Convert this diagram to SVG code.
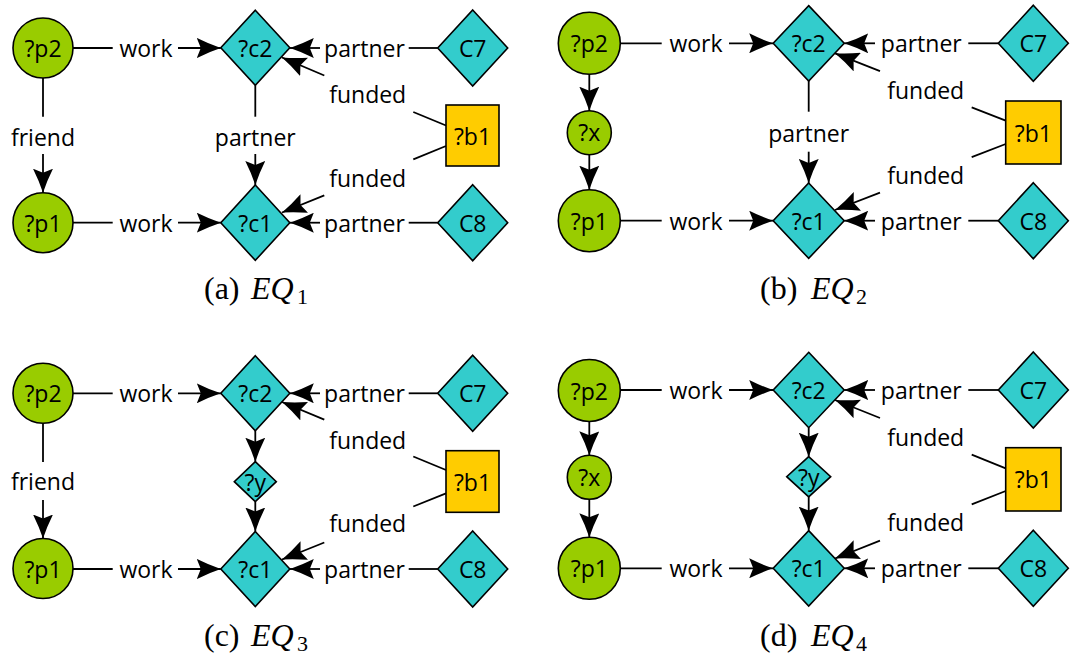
<svg xmlns="http://www.w3.org/2000/svg" width="1070" height="656" viewBox="0 0 1070 656">
<style>
.g{fill:#99cc00;stroke:#000;stroke-width:1.6}
.c{fill:#33cccc;stroke:#000;stroke-width:1.6}
.y{fill:#ffcc00;stroke:#000;stroke-width:1.6}
.t{font-family:"Open Sans","Noto Sans",sans-serif;font-size:23px;fill:#000;text-anchor:middle}
.e{fill:none;stroke:#000;stroke-width:1.8}
.a{marker-end:url(#ah)}
.cap{font-family:"Liberation Serif",serif;font-size:32px;fill:#000}
.capi{font-family:"Liberation Serif",serif;font-size:32px;font-style:italic;fill:#000}
.sub{font-family:"Liberation Serif",serif;font-size:22px;fill:#000}
</style>
<defs>
<marker id="ah" markerUnits="userSpaceOnUse" viewBox="0 0 24 20" markerWidth="24" markerHeight="20" refX="24" refY="10" orient="auto">
<path d="M0,0 Q12,6 24,10 Q12,14 0,20 L4,10 Z" fill="#000"/>
</marker>
</defs>
<rect width="1070" height="656" fill="#fff"/>

<!-- Panel a -->
<g id="a-connectors">
<path class="e" d="M73,48 H112.7"/><text class="t" x="146" y="57">work</text><path class="e a" d="M178,48 H220.8"/>
<path class="e" d="M437.7,48 H408.7"/><text class="t" x="364.5" y="57">partner</text><path class="e a" d="M320,48 H289.8"/>
<path class="e" d="M446,125.5 L413.3,112"/><text class="t" x="367.7" y="103">funded</text><path class="e a" d="M324.3,75.5 L282,57.5"/>
<path class="e" d="M446,146 L413.3,159.3"/><text class="t" x="367.7" y="186.5">funded</text><path class="e a" d="M324.3,195.3 L282,212.5"/>
<path class="e" d="M255.3,85.2 V116.7"/><text class="t" x="255.3" y="145.5">partner</text><path class="e a" d="M255.3,154 V185"/>
<path class="e" d="M43,78 V116.7"/><text class="t" x="43" y="145.5">friend</text><path class="e a" d="M43,154 V192.7"/>
<path class="e" d="M73,222.7 H112.7"/><text class="t" x="146" y="231.7">work</text><path class="e a" d="M178,222.7 H220.8"/>
<path class="e" d="M437.7,222.7 H408.7"/><text class="t" x="364.5" y="231.7">partner</text><path class="e a" d="M320,222.7 H289.8"/>
</g>
<g id="a-p2"><circle class="g" cx="43" cy="48" r="30"/><text class="t" x="43" y="57">?p2</text></g>
<g id="a-p1"><circle class="g" cx="43" cy="222.7" r="30"/><text class="t" x="43" y="231.7">?p1</text></g>
<g id="a-c2"><polygon class="c" points="255.3,10.2 289.8,47.7 255.3,85.2 220.8,47.7"/><text class="t" x="255.3" y="56.7">?c2</text></g>
<g id="a-c1"><polygon class="c" points="255.3,185 289.8,222.7 255.3,260.4 220.8,222.7"/><text class="t" x="255.3" y="231.7">?c1</text></g>
<g id="a-C7"><polygon class="c" points="472.7,10 507.7,48 472.7,86 437.7,48"/><text class="t" x="472.7" y="57">C7</text></g>
<g id="a-C8"><polygon class="c" points="472.7,184.7 507.7,222.7 472.7,260.7 437.7,222.7"/><text class="t" x="472.7" y="231.7">C8</text></g>
<g id="a-b1"><rect class="y" x="446" y="105" width="53" height="61"/><text class="t" x="472.5" y="144.5">?b1</text></g>
<g id="a-caption"><text class="cap" x="204" y="299">(a)</text><text class="capi" x="251" y="299">EQ</text><text class="sub" x="297" y="304">1</text></g>

<!-- Panel b -->
<g id="b-connectors">
<path class="e a" d="M589.3,74.3 V110.7"/>
<path class="e a" d="M589.3,154.7 V189.7"/>
<path class="e" d="M620.3,43.3 H661.7"/><text class="t" x="696" y="52.3">work</text><path class="e a" d="M729,43.3 H773.2"/>
<path class="e" d="M998.3,43.3 H968.3"/><text class="t" x="921.3" y="52.3">partner</text><path class="e a" d="M875,43.3 H844.2"/>
<path class="e" d="M1005.7,120.7 L971.7,107.3"/><text class="t" x="925.7" y="99">funded</text><path class="e a" d="M880,71.1 L835,53.3"/>
<path class="e" d="M1005.7,144 L971.7,157.2"/><text class="t" x="925.7" y="184">funded</text><path class="e a" d="M880,192.6 L835,210"/>
<path class="e" d="M808.7,81 V111.7"/><text class="t" x="808.7" y="142">partner</text><path class="e a" d="M808.7,151.7 V182.9"/>
<path class="e" d="M620.3,220.7 H661.7"/><text class="t" x="696" y="229.7">work</text><path class="e a" d="M729,220.7 H773.2"/>
<path class="e" d="M998.3,220.7 H968.3"/><text class="t" x="921.3" y="229.7">partner</text><path class="e a" d="M875,220.7 H844.2"/>
</g>
<g id="b-p2"><circle class="g" cx="589.3" cy="43.3" r="31"/><text class="t" x="589.3" y="52.3">?p2</text></g>
<g id="b-x"><circle class="g" cx="589.3" cy="132.7" r="22"/><text class="t" x="589.3" y="141.2">?x</text></g>
<g id="b-p1"><circle class="g" cx="589.3" cy="220.7" r="31"/><text class="t" x="589.3" y="229.7">?p1</text></g>
<g id="b-c2"><polygon class="c" points="808.7,5.6 844.2,43.3 808.7,81 773.2,43.3"/><text class="t" x="808.7" y="52.3">?c2</text></g>
<g id="b-c1"><polygon class="c" points="808.7,183 844.2,220.7 808.7,258.4 773.2,220.7"/><text class="t" x="808.7" y="229.7">?c1</text></g>
<g id="b-C7"><polygon class="c" points="1033.3,5.3 1068.3,43.3 1033.3,81.3 998.3,43.3"/><text class="t" x="1033.3" y="52.3">C7</text></g>
<g id="b-C8"><polygon class="c" points="1033.3,182.7 1068.3,220.7 1033.3,258.7 998.3,220.7"/><text class="t" x="1033.3" y="229.7">C8</text></g>
<g id="b-b1"><rect class="y" x="1005.7" y="101" width="55.3" height="63"/><text class="t" x="1033.3" y="141.5">?b1</text></g>
<g id="b-caption"><text class="cap" x="760" y="299">(b)</text><text class="capi" x="811" y="299">EQ</text><text class="sub" x="856" y="304">2</text></g>

<!-- Panel c -->
<g id="c-connectors">
<path class="e" d="M73,393.3 H112.7"/><text class="t" x="146" y="402.3">work</text><path class="e a" d="M178,393.3 H220.8"/>
<path class="e" d="M437.7,393.3 H408.7"/><text class="t" x="364.5" y="402.3">partner</text><path class="e a" d="M320,393.3 H289.8"/>
<path class="e" d="M446,470 L413.3,456.5"/><text class="t" x="367.7" y="448.5">funded</text><path class="e a" d="M324.3,419.6 L282,402"/>
<path class="e" d="M446,493.3 L413.3,506.5"/><text class="t" x="367.7" y="532">funded</text><path class="e a" d="M324.3,542.5 L282,559.5"/>
<path class="e a" d="M255.3,430.8 V461.7"/>
<path class="e a" d="M255.3,501.7 V531.5"/>
<path class="e" d="M43,423.3 V462"/><text class="t" x="43" y="490">friend</text><path class="e a" d="M43,500 V538.5"/>
<path class="e" d="M73,569 H112.7"/><text class="t" x="146" y="578">work</text><path class="e a" d="M178,569 H220.8"/>
<path class="e" d="M437.7,569 H408.7"/><text class="t" x="364.5" y="578">partner</text><path class="e a" d="M320,569 H289.8"/>
</g>
<g id="c-p2"><circle class="g" cx="43" cy="393.3" r="30"/><text class="t" x="43" y="402.3">?p2</text></g>
<g id="c-p1"><circle class="g" cx="43" cy="568.5" r="30"/><text class="t" x="43" y="577.5">?p1</text></g>
<g id="c-c2"><polygon class="c" points="255.3,355.8 289.8,393.3 255.3,430.8 220.8,393.3"/><text class="t" x="255.3" y="402.3">?c2</text></g>
<g id="c-y"><polygon class="c" points="255.3,461.7 276.3,481.7 255.3,501.7 234.3,481.7"/><text class="t" x="255.3" y="490.5">?y</text></g>
<g id="c-c1"><polygon class="c" points="255.3,531.5 289.8,569 255.3,606.5 220.8,569"/><text class="t" x="255.3" y="578">?c1</text></g>
<g id="c-C7"><polygon class="c" points="472.7,355.3 507.7,393.3 472.7,431.3 437.7,393.3"/><text class="t" x="472.7" y="402.3">C7</text></g>
<g id="c-C8"><polygon class="c" points="472.7,531 507.7,569 472.7,607 437.7,569"/><text class="t" x="472.7" y="578">C8</text></g>
<g id="c-b1"><rect class="y" x="446" y="450.7" width="53" height="61.6"/><text class="t" x="472.5" y="490.5">?b1</text></g>
<g id="c-caption"><text class="cap" x="204" y="646">(c)</text><text class="capi" x="251" y="646">EQ</text><text class="sub" x="297" y="651">3</text></g>

<!-- Panel d -->
<g id="d-connectors">
<path class="e a" d="M589.3,421.5 V455.3"/>
<path class="e a" d="M589.3,499.3 V537.3"/>
<path class="e" d="M620.3,390 H661.7"/><text class="t" x="696" y="399">work</text><path class="e a" d="M729,390 H773.2"/>
<path class="e" d="M998.3,390 H968.3"/><text class="t" x="921.3" y="399">partner</text><path class="e a" d="M875,390 H844.2"/>
<path class="e" d="M1005.7,468.3 L971.7,454.7"/><text class="t" x="925.7" y="445.5">funded</text><path class="e a" d="M880,418 L835,400"/>
<path class="e" d="M1005.7,491 L971.7,504.4"/><text class="t" x="925.7" y="530.5">funded</text><path class="e a" d="M880,540.7 L835,558.5"/>
<path class="e a" d="M808.7,427.7 V456.7"/>
<path class="e a" d="M808.7,497 V530.6"/>
<path class="e" d="M620.3,568.3 H661.7"/><text class="t" x="696" y="577.3">work</text><path class="e a" d="M729,568.3 H773.2"/>
<path class="e" d="M998.3,568.3 H968.3"/><text class="t" x="921.3" y="577.3">partner</text><path class="e a" d="M875,568.3 H844.2"/>
</g>
<g id="d-p2"><circle class="g" cx="589.3" cy="390.5" r="31"/><text class="t" x="589.3" y="399.5">?p2</text></g>
<g id="d-x"><circle class="g" cx="589.3" cy="477.3" r="22"/><text class="t" x="589.3" y="485.8">?x</text></g>
<g id="d-p1"><circle class="g" cx="589.3" cy="568.3" r="31"/><text class="t" x="589.3" y="577.3">?p1</text></g>
<g id="d-c2"><polygon class="c" points="808.7,352.3 844.2,390 808.7,427.7 773.2,390"/><text class="t" x="808.7" y="399">?c2</text></g>
<g id="d-y"><polygon class="c" points="808.7,456.7 830.7,476.7 808.7,496.9 786.7,476.7"/><text class="t" x="808.7" y="485.5">?y</text></g>
<g id="d-c1"><polygon class="c" points="808.7,530.6 844.2,568.3 808.7,606 773.2,568.3"/><text class="t" x="808.7" y="577.3">?c1</text></g>
<g id="d-C7"><polygon class="c" points="1033.3,352 1068.3,390 1033.3,428 998.3,390"/><text class="t" x="1033.3" y="399">C7</text></g>
<g id="d-C8"><polygon class="c" points="1033.3,530.3 1068.3,568.3 1033.3,606.3 998.3,568.3"/><text class="t" x="1033.3" y="577.3">C8</text></g>
<g id="d-b1"><rect class="y" x="1005.7" y="447.7" width="55.3" height="63.3"/><text class="t" x="1033.3" y="488">?b1</text></g>
<g id="d-caption"><text class="cap" x="760" y="646">(d)</text><text class="capi" x="811" y="646">EQ</text><text class="sub" x="856" y="651">4</text></g>
</svg>
